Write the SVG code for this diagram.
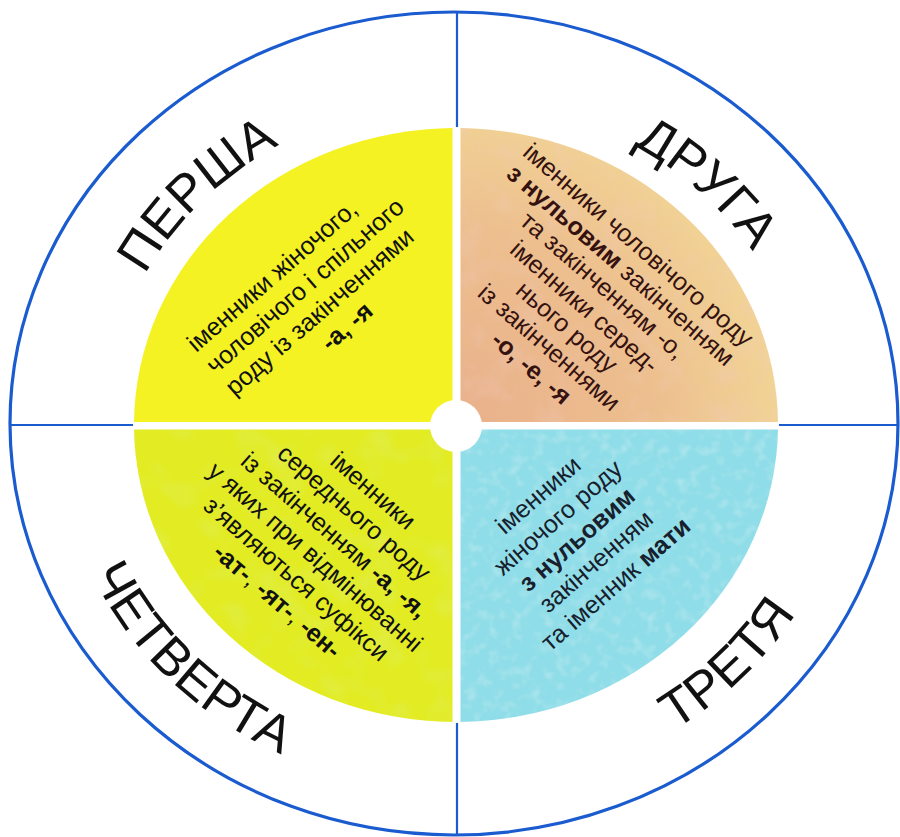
<svg xmlns="http://www.w3.org/2000/svg" width="900" height="837" viewBox="0 0 900 837">
  <style>
    .div { stroke: #1a5ccf; stroke-width: 2.2; fill: none; }
    .rim { stroke: #1a5ccf; stroke-width: 3.2; fill: none; }
    .big { font-family: "Liberation Sans", Arial, sans-serif; font-size: 52px; fill: #111; }
    .t { font-family: "Liberation Sans", Arial, sans-serif; font-size: 25px; }
    .b { font-weight: 700; }
  </style>
  <defs>
    <clipPath id="cTL"><rect x="0" y="0" width="452.5" height="422"/></clipPath>
    <clipPath id="cTR"><rect x="460.5" y="0" width="440" height="422"/></clipPath>
    <clipPath id="cBL"><rect x="0" y="429.5" width="452.5" height="420"/></clipPath>
    <clipPath id="cBR"><rect x="460.5" y="429.5" width="440" height="420"/></clipPath>
    <clipPath id="cDisc"><ellipse cx="456" cy="425" rx="322" ry="297"/></clipPath>
    <radialGradient id="gPeach" cx="456" cy="425" r="330" gradientUnits="userSpaceOnUse">
      <stop offset="0" stop-color="#e9b08b"/>
      <stop offset="0.6" stop-color="#edbf8e"/>
      <stop offset="1" stop-color="#f2d596"/>
    </radialGradient>
    <filter id="mottle" x="0" y="0" width="1" height="1">
      <feTurbulence type="fractalNoise" baseFrequency="0.035" numOctaves="3" seed="4"/>
      <feColorMatrix type="matrix" values="0 0 0 0 0.88  0 0 0 0 0.6  0 0 0 0 0.52  1.6 0 0 0 -0.75"/>
    </filter>
    <filter id="speck" x="0" y="0" width="1" height="1">
      <feTurbulence type="fractalNoise" baseFrequency="0.09" numOctaves="2" seed="7"/>
      <feColorMatrix type="matrix" values="0 0 0 0 1  0 0 0 0 1  0 0 0 0 1  1.8 0 0 0 -0.85"/>
    </filter>
    <filter id="green" x="0" y="0" width="1" height="1">
      <feTurbulence type="fractalNoise" baseFrequency="0.03" numOctaves="2" seed="11"/>
      <feColorMatrix type="matrix" values="0 0 0 0 0.72  0 0 0 0 0.88  0 0 0 0 0.25  1.5 0 0 0 -0.72"/>
    </filter>
    <path id="arcTL" d="M 105 425 A 351 324 0 0 1 456 101"/>
    <path id="arcTR" d="M 456 101 A 351 324 0 0 1 807 425"/>
    <path id="arcBR" d="M 455 791 A 398 367 0 0 0 853 424"/>
    <path id="arcBL" d="M 57 424 A 398 367 0 0 0 455 791"/>
  </defs>

  <rect width="900" height="837" fill="#ffffff"/>

  <g id="dividers">
    <line class="div" x1="457" y1="12" x2="457" y2="835"/>
    <line class="div" x1="10" y1="425" x2="898" y2="425"/>
  </g>
  <ellipse cx="456" cy="425" rx="323" ry="298" fill="#ffffff"/>
  <ellipse id="outer" class="rim" cx="454" cy="423.5" rx="444" ry="411.5"/>

  <g id="q-persha">
    <ellipse cx="456" cy="425" rx="322" ry="297" fill="#f4f222" clip-path="url(#cTL)"/>
    <text class="big"><textPath href="#arcTL" startOffset="47.5%" text-anchor="middle">ПЕРША</textPath></text>
    <g transform="translate(300,300) rotate(-41)" class="t" fill="#111">
      <text x="-113" y="-28">іменники жіночого,</text>
      <text x="-113" y="1">чоловічого і спільного</text>
      <text x="-113" y="30">роду із закінченнями</text>
      <text x="18" y="59" text-anchor="middle" class="b">-а, -я</text>
    </g>
  </g>

  <g id="q-druha">
    <g clip-path="url(#cTR)">
      <g clip-path="url(#cDisc)">
        <rect x="456" y="120" width="330" height="310" fill="url(#gPeach)"/>
        <rect x="456" y="120" width="330" height="310" filter="url(#mottle)" opacity="0.5"/>
      </g>
    </g>
    <text class="big"><textPath href="#arcTR" startOffset="50%" text-anchor="middle">ДРУГА</textPath></text>
    <g transform="translate(615,290) rotate(41)" class="t" fill="#35120f" text-anchor="middle">
      <text x="-12" y="-41">іменники чоловічого роду</text>
      <text x="-12" y="-14"><tspan class="b">з нульовим</tspan> закінченням</text>
      <text x="-12" y="13">та закінченням -о,</text>
      <text x="-12" y="41">іменники серед-</text>
      <text x="-12" y="68">нього роду</text>
      <text x="-12" y="95">із закінченнями</text>
      <text x="-12" y="122" class="b">-о, -е, -я</text>
    </g>
  </g>

  <g id="q-tretia">
    <g clip-path="url(#cBR)">
      <g clip-path="url(#cDisc)">
        <rect x="456" y="425" width="330" height="300" fill="#8fdde8"/>
        <rect x="456" y="425" width="330" height="300" filter="url(#speck)" opacity="0.35"/>
      </g>
    </g>
    <text class="big"><textPath href="#arcBR" startOffset="52.5%" text-anchor="middle">ТРЕТЯ</textPath></text>
    <g transform="translate(580,540) rotate(-41)" class="t" fill="#17202c" text-anchor="middle">
      <text x="-2" y="-53">іменники</text>
      <text x="-2" y="-23">жіночого роду</text>
      <text x="-2" y="6" class="b">з нульовим</text>
      <text x="-2" y="35">закінченням</text>
      <text x="-2" y="65">та іменник <tspan class="b">мати</tspan></text>
    </g>
  </g>

  <g id="q-chetverta">
    <g clip-path="url(#cBL)">
      <g clip-path="url(#cDisc)">
        <rect x="130" y="425" width="330" height="300" fill="#e3ec22"/>
        <rect x="130" y="425" width="330" height="300" filter="url(#green)" opacity="0.55"/>
      </g>
    </g>
    <text class="big"><textPath href="#arcBL" startOffset="48%" text-anchor="middle">ЧЕТВЕРТА</textPath></text>
    <g transform="translate(310,545) rotate(41)" class="t" fill="#111" text-anchor="middle">
      <text x="12" y="-74">іменники</text>
      <text x="12" y="-45">середнього роду</text>
      <text x="12" y="-15">із закінченням <tspan class="b">-а, -я,</tspan></text>
      <text x="12" y="14">у яких при відмінюванні</text>
      <text x="12" y="43">з’являються суфікси</text>
      <text x="12" y="72"><tspan class="b">-ат-</tspan>, <tspan class="b">-ят-</tspan>, <tspan class="b">-ен-</tspan></text>
    </g>
  </g>

  <circle id="hub" cx="456" cy="426" r="26" fill="#ffffff"/>
</svg>
